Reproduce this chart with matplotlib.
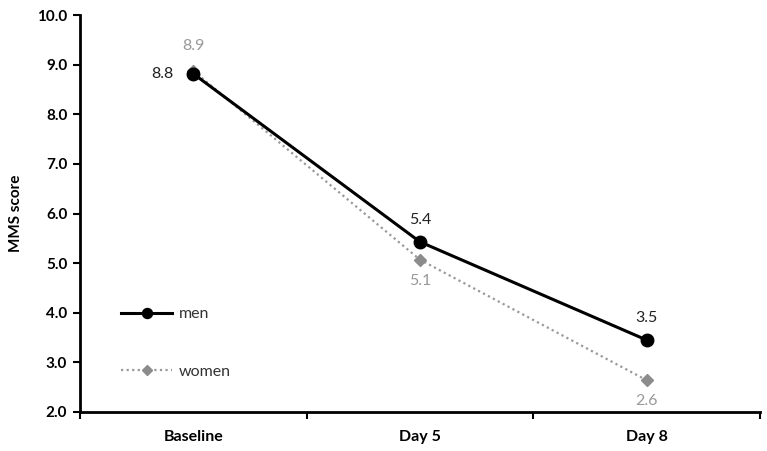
import matplotlib
matplotlib.use("Agg")
import matplotlib.pyplot as plt

categories = ["Baseline", "Day 5", "Day 8"]
men = [8.82, 5.43, 3.45]
women = [8.88, 5.07, 2.64]
yticks = [2.0, 3.0, 4.0, 5.0, 6.0, 7.0, 8.0, 9.0, 10.0]

plt.rcParams['font.family'] = ['Lato', 'DejaVu Sans']

fig = plt.figure(figsize=(7.67, 4.51), dpi=100)
ax = fig.add_axes([0.104, 0.0865, 0.887, 0.88])

x = list(range(len(categories)))
ax.plot(x, women, linestyle=(0, (1, 1.5)), color='#999999', lw=1.6,
        marker='D', markersize=6.5, markerfacecolor='#8c8c8c', markeredgecolor='#8c8c8c', label='women', zorder=2)
ax.plot(x, men, linestyle='-', color='black', lw=2.2,
        marker='o', markersize=9, markerfacecolor='black', label='men', zorder=3)

# data labels
mc = '#222222'
wc = '#999999'
fs = 11.5
ax.annotate(f"{men[0]:.1f}", (x[0], men[0]), xytext=(-14, 0), textcoords='offset points',
            ha='right', va='center', color=mc, fontsize=fs)
ax.annotate(f"{women[0]:.1f}", (x[0], women[0]), xytext=(0, 13), textcoords='offset points',
            ha='center', va='bottom', color=wc, fontsize=fs)
for i in (1, 2):
    ax.annotate(f"{men[i]:.1f}", (x[i], men[i]), xytext=(0, 11), textcoords='offset points',
                ha='center', va='bottom', color=mc, fontsize=fs)
    ax.annotate(f"{women[i]:.1f}", (x[i], women[i]), xytext=(0, -10), textcoords='offset points',
                ha='center', va='top', color=wc, fontsize=fs)

ax.set_xlim(-0.5, 2.5)
ax.set_ylim(2.0, 10.0)
ax.set_yticks(yticks)
ax.set_yticklabels([f"{v:.1f}" for v in yticks], fontweight='bold', fontsize=11)
ax.set_xticks(x)
ax.set_xticklabels(categories, fontweight='bold', fontsize=11.5)
ax.tick_params(axis='x', which='major', length=0, pad=13)
ax.set_xticks([-0.5, 0.5, 1.5, 2.5], minor=True)
ax.tick_params(axis='x', which='minor', length=5, width=1.5, direction='out')
ax.tick_params(axis='y', which='major', length=5, width=1.5, direction='out', pad=4)

for s in ('top', 'right'):
    ax.spines[s].set_visible(False)
for s in ('left', 'bottom'):
    ax.spines[s].set_linewidth(2)
    ax.spines[s].set_color('black')

ax.set_ylabel("MMS score", fontweight='bold', fontsize=11, labelpad=10)

handles, labels = ax.get_legend_handles_labels()
leg = ax.legend(handles[::-1], labels[::-1], loc='upper left', bbox_to_anchor=(0.04, 0.30),
                frameon=False, fontsize=11.5, labelspacing=2.7, handlelength=3.2, handletextpad=0.4,
                markerscale=0.8)
for t in leg.get_texts():
    t.set_color('#333333')

fig.savefig("out.png", dpi=100)
